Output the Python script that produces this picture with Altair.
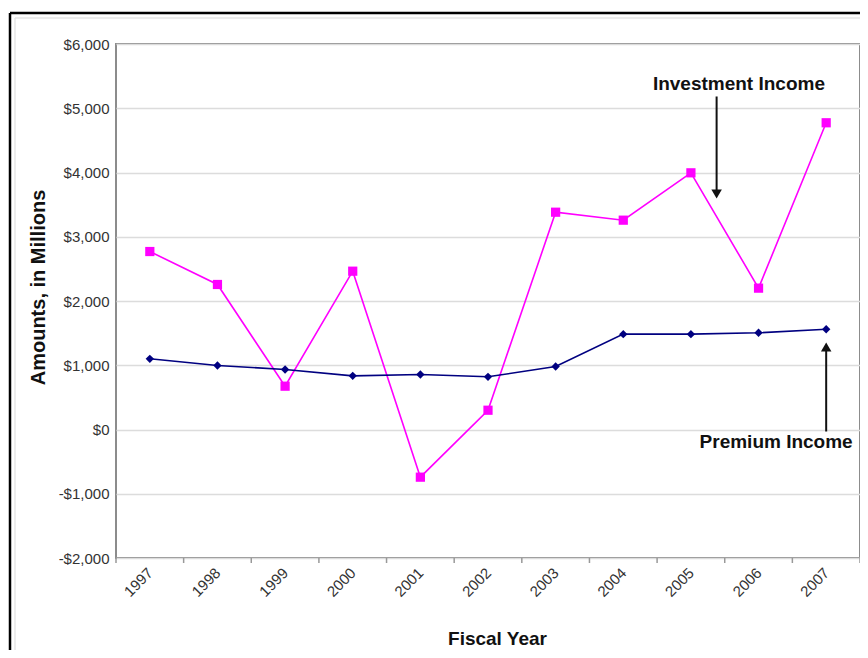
import altair as alt
import pandas as pd

years = list(range(1997, 2008))
investment = [2770, 2257, 674, 2464, -742, 300, 3382, 3258, 3995, 2200, 4774]
premium = [1100, 996, 934, 835, 856, 820, 980, 1484, 1484, 1505, 1560]

ann_labels = ["Investment Income", "Premium Income"]
ann_x = [2005.71, 2006.26]
ann_y = [5385, -187]
arrow_x = [2005.38, 2007]
arrow_from = [5183, -31]
arrow_to = [3700, 1250]
head_y = [3665, 1284]
arrow_shape = ["triangle-down", "triangle-up"]

FONT = "Liberation Sans"
W, H = 744, 514

rows = []
for y, v in zip(years, investment):
    rows.append({"year": y, "value": v, "series": "Investment Income"})
for y, v in zip(years, premium):
    rows.append({"year": y, "value": v, "series": "Premium Income"})
df = pd.DataFrame(rows)

ann = pd.DataFrame({"label": ann_labels, "x": ann_x, "y": ann_y,
                    "ax": arrow_x, "a1": arrow_from, "a2": arrow_to,
                    "hy": head_y, "shape": arrow_shape})

bounds = pd.DataFrame({"b": [y - 0.5 for y in years] + [years[-1] + 0.5]})

xscale = alt.Scale(domain=[years[0] - 0.5, years[-1] + 0.5], nice=False, zero=False)
yscale = alt.Scale(domain=[-2000, 6000], nice=False)

x_enc = alt.X("year:Q", scale=xscale,
              axis=alt.Axis(values=years, format="d", labelAngle=-45, labelAlign="right",
                            labelBaseline="middle", labelPadding=12, labelFontSize=15,
                            labelColor="#333333", labelFont=FONT, ticks=False, domain=False,
                            grid=False, title="Fiscal Year", titleFont=FONT, titleFontSize=19,
                            titleFontWeight="bold", titleColor="#111111", titleX=381,
                            titleY=80, titleBaseline="middle", labelOverlap=False))
y_enc = alt.Y("value:Q", scale=yscale,
              axis=alt.Axis(values=list(range(-2000, 6001, 1000)),
                            labelExpr="datum.value < 0 ? '-$' + format(-datum.value, ',') : '$' + format(datum.value, ',')",
                            labelFontSize=15, labelColor="#333333", labelFont=FONT,
                            labelPadding=7, ticks=False, domain=False,
                            grid=True, gridColor="#dcdcdc", gridWidth=1.5,
                            title="Amounts, in Millions", titleFont=FONT, titleFontSize=20,
                            titleFontWeight="bold", titleColor="#111111",
                            titleX=-78, titleY=243, titleAngle=-90, titleBaseline="middle"))

color = alt.Color("series:N", scale=alt.Scale(domain=["Investment Income", "Premium Income"],
                                              range=["#ff00ff", "#000080"]), legend=None)

lines = alt.Chart(df).mark_line(strokeWidth=1.6).encode(x=x_enc, y=y_enc, color=color)

inv_pts = alt.Chart(df).transform_filter("datum.series == 'Investment Income'").mark_point(
    shape="square", filled=True, size=85, color="#ff00ff", opacity=1).encode(x="year:Q", y="value:Q")
prem_pts = alt.Chart(df).transform_filter("datum.series == 'Premium Income'").mark_point(
    shape="diamond", filled=True, size=70, color="#000080", opacity=1).encode(x="year:Q", y="value:Q")

ticks = alt.Chart(bounds).mark_rule(color="#999999", strokeWidth=1.5).encode(
    x=alt.X("b:Q", scale=xscale), y=alt.value(H), y2=alt.value(H + 5))

texts = alt.Chart(ann).mark_text(font=FONT, fontSize=19, fontWeight="bold", color="#111111",
                                 align="center", baseline="middle").encode(
    x="x:Q", y="y:Q", text="label:N")
shafts = alt.Chart(ann).mark_rule(color="#111111", strokeWidth=2).encode(
    x="ax:Q", y="a1:Q", y2="a2:Q")
heads = alt.Chart(ann).mark_point(filled=True, size=110, color="#111111", opacity=1).encode(
    x="ax:Q", y="hy:Q", shape=alt.Shape("shape:N", scale=None))

one = pd.DataFrame({"k": [0]})
frame_top = alt.Chart(one).mark_rule(color="#000000", strokeWidth=2.5).encode(
    x=alt.value(-106), x2=alt.value(W + 10), y=alt.value(-31))
frame_left = alt.Chart(one).mark_rule(color="#000000", strokeWidth=2.5).encode(
    x=alt.value(-106), y=alt.value(-31), y2=alt.value(H + 120))
inner_top = alt.Chart(one).mark_rule(color="#e6e6e6", strokeWidth=1.5).encode(
    x=alt.value(-101), x2=alt.value(W + 10), y=alt.value(-26))
inner_left = alt.Chart(one).mark_rule(color="#e6e6e6", strokeWidth=1.5).encode(
    x=alt.value(-101), y=alt.value(-26), y2=alt.value(H + 120))
inner_bottom = alt.Chart(one).mark_rule(color="#e6e6e6", strokeWidth=1.5).encode(
    x=alt.value(-101), x2=alt.value(W + 10), y=alt.value(H + 97))

chart = alt.layer(frame_top, frame_left, inner_top, inner_left, inner_bottom,
                  lines, inv_pts, prem_pts, ticks, shafts, heads, texts).properties(
    width=W, height=H,
    autosize=alt.AutoSizeParams(type="none"),
    padding={"left": 108, "top": 36, "right": 0, "bottom": 92},
    background="#ffffff",
).configure_view(stroke="#8c8c8c", strokeWidth=2)

chart.save("out.html", embed_options={"renderer": "svg", "actions": False})
